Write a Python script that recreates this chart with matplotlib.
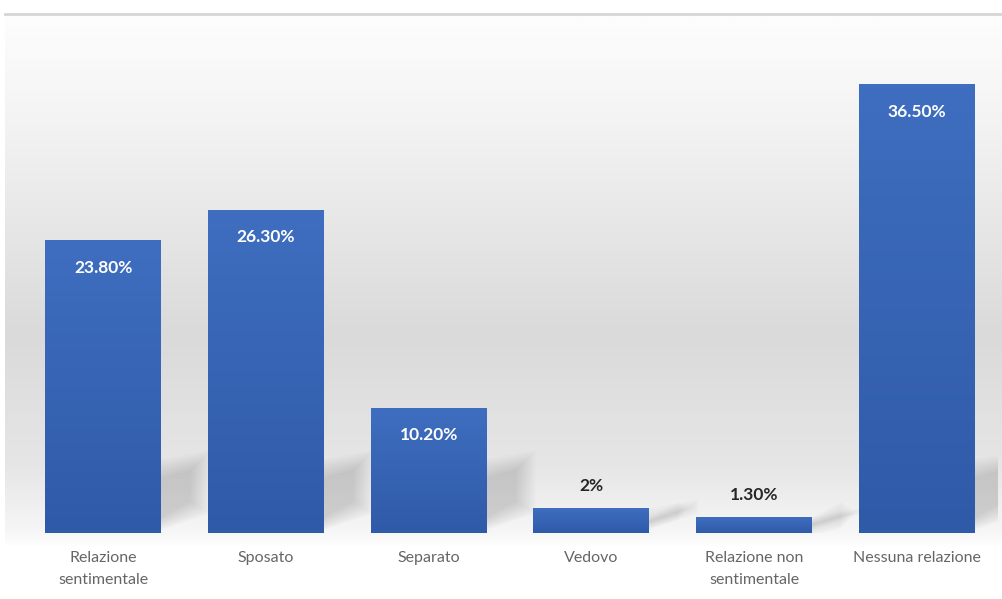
import matplotlib
matplotlib.use("Agg")
import matplotlib.pyplot as plt
from matplotlib.colors import LinearSegmentedColormap
from matplotlib.patches import Polygon
import numpy as np

plt.rcParams["font.family"] = ["Lato", "DejaVu Sans"]

categories = ["Relazione\nsentimentale", "Sposato", "Separato", "Vedovo",
              "Relazione non\nsentimentale", "Nessuna relazione"]
values = [23.8, 26.3, 10.2, 2.0, 1.3, 36.5]
labels = ["23.80%", "26.30%", "10.20%", "2%", "1.30%", "36.50%"]

BAR_TOP = "#3f6ec0"
BAR_BOT = "#2f5aa8"

W, H = 1002, 599
fig = plt.figure(figsize=(W / 100, H / 100), dpi=100)
fig.patch.set_facecolor("white")

# plot-area backdrop: white at top, grey in the middle, fading out at the floor
bg = fig.add_axes([5 / W, 1 - 548 / H, 997 / W, (548 - 16) / H], zorder=0)
bg_cmap = LinearSegmentedColormap.from_list(
    "bg", [(0.0, "#fdfdfd"), (0.2, "#f3f3f3"), (0.6, "#dadada"),
           (0.85, "#e6e6e6"), (0.97, "#f6f6f6"), (1.0, "#ffffff")])
bg.imshow(np.linspace(0, 1, 256).reshape(-1, 1), cmap=bg_cmap, aspect="auto",
          extent=[0, 1, 1, 0])
bg.axis("off")

# thin frame line on top
fig.add_artist(plt.Line2D([5 / W, 1.0], [1 - 14 / H, 1 - 14 / H],
                          color="#d6d6d6", lw=2.0, transform=fig.transFigure))

ax = fig.add_axes([22 / W, 1 - 533 / H, (998 - 22) / W, (533 - 41) / H], zorder=1)
ax.patch.set_alpha(0)
x = np.arange(len(categories))
bw = 0.713

# soft floor shadows behind each bar, feathered with stacked translucent layers
for xi, v in zip(x, values):
    r = xi + bw / 2
    top = min(v, 6.0)
    for k in range(12):
        t = k / 11
        dx = 0.12 * t
        dy = 1.6 * t
        poly = Polygon([(r - 0.01, 0.2 + dy * 0.6), (r - 0.01, top - dy),
                        (r + 0.30 - dx, top + 0.7 - dy),
                        (r + 0.30 - dx, 1.6 + dy * 0.6)],
                       closed=True, facecolor="#808080", edgecolor="none",
                       alpha=0.028, zorder=1)
        ax.add_patch(poly)

bars = ax.bar(x, values, width=bw, color=BAR_BOT, edgecolor="none", zorder=2)

bar_cmap = LinearSegmentedColormap.from_list("bar", [BAR_BOT, BAR_TOP])
grad = np.linspace(0, 1, 128).reshape(-1, 1)
for b in bars:
    x0, w, h = b.get_x(), b.get_width(), b.get_height()
    im = ax.imshow(grad, cmap=bar_cmap, aspect="auto", origin="lower",
                   extent=[x0, x0 + w, 0, h], zorder=3)
    im.set_clip_path(b)

for xi, v, lab in zip(x, values, labels):
    if v > 5:
        ax.text(xi, v - 2.25, lab, ha="center", va="center", color="white",
                fontsize=12.5, fontweight="bold", zorder=4)
    else:
        ax.text(xi, v + 1.8, lab, ha="center", va="center", color="#262626",
                fontsize=12.5, fontweight="bold", zorder=4)

ax.set_xlim(-0.5, len(categories) - 0.5)
ax.set_ylim(0, 40)
ax.set_xticks(x)
ax.set_xticklabels(categories, fontsize=11.5, color="#666666", linespacing=1.75)
ax.tick_params(axis="x", length=0, pad=13)
ax.set_yticks([])
for s in ax.spines.values():
    s.set_visible(False)

fig.savefig("out.png", dpi=100, facecolor="white")
